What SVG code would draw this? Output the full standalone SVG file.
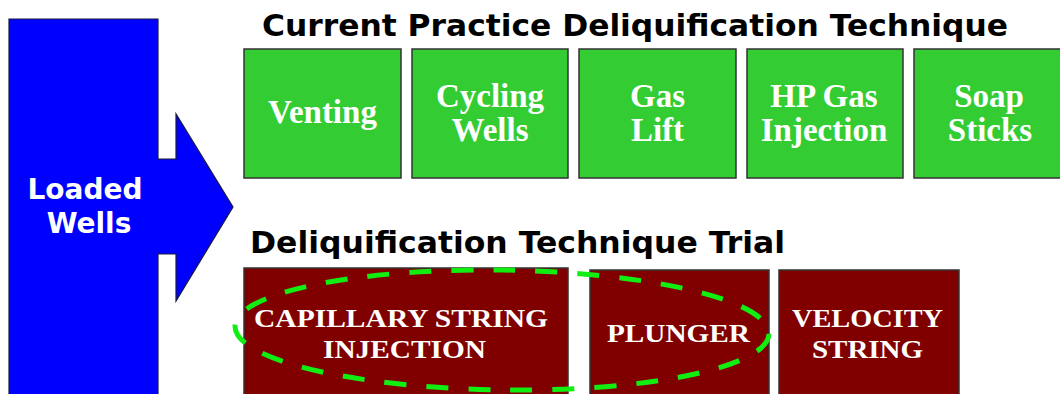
<svg xmlns="http://www.w3.org/2000/svg" width="1060" height="394" viewBox="0 0 1060 394">
  <style>
    .heading { font-family: "DejaVu Sans", Verdana, sans-serif; font-weight: bold; font-size: 31px; fill: #000; }
    .arrow-label { font-family: "DejaVu Sans", Verdana, sans-serif; font-weight: bold; font-size: 28px; fill: #fff; text-anchor: middle; }
    .practice rect { fill: #33cc33; stroke: #333; stroke-width: 1.5; }
    .practice text { font-family: "Liberation Serif", "Times New Roman", serif; font-weight: bold; font-size: 33px; fill: #fff; text-anchor: middle; }
    .trial rect { fill: #800000; stroke: #333; stroke-width: 1.5; }
    .trial text { font-family: "Liberation Serif", "Times New Roman", serif; font-weight: bold; font-size: 25px; fill: #fff; text-anchor: middle; }
    .highlight { fill: none; stroke: #11ee11; stroke-width: 5; stroke-dasharray: 22 20; }
  </style>

  <rect width="1060" height="394" fill="#fff"/>

  <!-- Headings -->
  <text class="heading" x="262" y="36" textLength="746" lengthAdjust="spacingAndGlyphs">Current Practice Deliquification Technique</text>
  <text class="heading" x="250" y="253" textLength="535" lengthAdjust="spacingAndGlyphs">Deliquification Technique Trial</text>

  <!-- Source: big block arrow -->
  <g id="loaded-wells">
    <polygon points="9,19 158,19 158,159 176,159 176,114 233,207 176,301 176,254 158,254 158,400 9,400" fill="#0000ff" stroke="#1a1a40" stroke-width="1.2"/>
    <text class="arrow-label" x="85" y="199">Loaded</text>
    <text class="arrow-label" x="89" y="233">Wells</text>
  </g>

  <!-- Current practice techniques -->
  <g id="venting" class="practice">
    <rect x="244" y="49" width="157" height="129"/>
    <text x="322.5" y="123">Venting</text>
  </g>
  <g id="cycling-wells" class="practice">
    <rect x="412" y="49" width="156" height="129"/>
    <text x="490" y="107">Cycling</text>
    <text x="490" y="141">Wells</text>
  </g>
  <g id="gas-lift" class="practice">
    <rect x="579" y="49" width="157" height="129"/>
    <text x="657.5" y="107">Gas</text>
    <text x="657.5" y="141">Lift</text>
  </g>
  <g id="hp-gas-injection" class="practice">
    <rect x="747" y="49" width="156" height="129"/>
    <text x="824" y="107">HP Gas</text>
    <text x="824" y="141">Injection</text>
  </g>
  <g id="soap-sticks" class="practice">
    <rect x="914" y="49" width="156" height="129"/>
    <text x="989" y="107">Soap</text>
    <text x="990" y="141">Sticks</text>
  </g>

  <!-- Trial techniques -->
  <g id="capillary-string-injection" class="trial">
    <rect x="244" y="268" width="324" height="140"/>
    <text x="401" y="327" textLength="294" lengthAdjust="spacingAndGlyphs">CAPILLARY STRING</text>
    <text x="404.5" y="358" textLength="163" lengthAdjust="spacingAndGlyphs">INJECTION</text>
  </g>
  <g id="plunger" class="trial">
    <rect x="590" y="270" width="179" height="140"/>
    <text x="678.5" y="342" textLength="143" lengthAdjust="spacingAndGlyphs">PLUNGER</text>
  </g>
  <g id="velocity-string" class="trial">
    <rect x="779" y="270" width="180" height="140"/>
    <text x="867.5" y="327" textLength="151" lengthAdjust="spacingAndGlyphs">VELOCITY</text>
    <text x="867.5" y="358" textLength="111" lengthAdjust="spacingAndGlyphs">STRING</text>
  </g>

  <!-- Dashed highlight around the first two trial techniques -->
  <g id="connectors">
    <ellipse class="highlight" cx="502" cy="330" rx="267" ry="60" transform="rotate(0.8 502 330)"/>
  </g>
</svg>
